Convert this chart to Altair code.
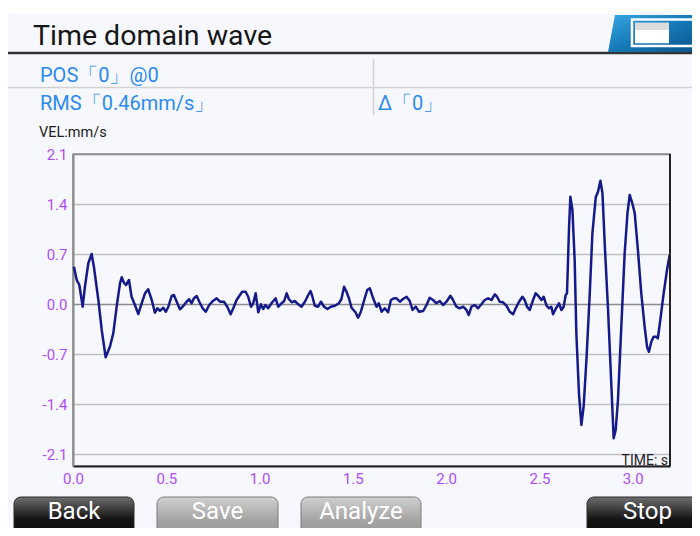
import altair as alt
import pandas as pd

# ---------------- data ----------------
time_s = [0.005, 0.020, 0.034, 0.052, 0.064, 0.082, 0.100, 0.112, 0.136, 0.154,
          0.175, 0.198, 0.216, 0.234, 0.252, 0.261, 0.273, 0.284, 0.300, 0.314,
          0.332, 0.350, 0.368, 0.386, 0.403, 0.422, 0.439, 0.452, 0.466, 0.484,
          0.498, 0.511, 0.529, 0.541, 0.556, 0.573, 0.591, 0.609, 0.623, 0.636,
          0.648, 0.663, 0.677, 0.695, 0.712, 0.730, 0.752, 0.770, 0.788, 0.809,
          0.827, 0.845, 0.859, 0.877, 0.895, 0.907, 0.925, 0.939, 0.954, 0.966,
          0.979, 0.993, 1.007, 1.019, 1.032, 1.046, 1.064, 1.086, 1.100, 1.118,
          1.132, 1.145, 1.157, 1.172, 1.189, 1.207, 1.225, 1.243, 1.261, 1.273,
          1.282, 1.296, 1.314, 1.329, 1.346, 1.364, 1.382, 1.404, 1.425, 1.439,
          1.453, 1.466, 1.479, 1.493, 1.514, 1.528, 1.543, 1.561, 1.577, 1.591,
          1.609, 1.627, 1.639, 1.654, 1.671, 1.689, 1.704, 1.721, 1.734, 1.752,
          1.769, 1.788, 1.805, 1.820, 1.837, 1.855, 1.877, 1.895, 1.912, 1.930,
          1.948, 1.966, 1.984, 2.002, 2.023, 2.037, 2.055, 2.073, 2.091, 2.109,
          2.121, 2.136, 2.154, 2.171, 2.189, 2.207, 2.225, 2.243, 2.261, 2.273,
          2.287, 2.305, 2.323, 2.341, 2.359, 2.373, 2.391, 2.409, 2.421, 2.434,
          2.448, 2.466, 2.480, 2.493, 2.511, 2.523, 2.538, 2.552, 2.564, 2.573,
          2.587, 2.605, 2.618, 2.630, 2.641, 2.648, 2.659, 2.666, 2.677, 2.689,
          2.698, 2.712, 2.725, 2.737, 2.752, 2.770, 2.784, 2.802, 2.814, 2.827,
          2.838, 2.850, 2.868, 2.886, 2.898, 2.909, 2.921, 2.939, 2.957, 2.972,
          2.984, 2.998, 3.011, 3.028, 3.046, 3.064, 3.077, 3.087, 3.100, 3.112,
          3.127, 3.135, 3.148, 3.166, 3.184, 3.198]

vel_mm_s = [0.522, 0.336, 0.266, -0.038, 0.242, 0.570, 0.700, 0.522, 0.056, -0.364,
            -0.746, -0.598, -0.410, -0.038, 0.290, 0.374, 0.298, 0.266, 0.336, 0.102,
            -0.014, -0.140, 0.010, 0.150, 0.206, 0.056, -0.122, -0.060, -0.094, -0.052,
            -0.108, -0.038, 0.112, 0.126, 0.032, -0.074, -0.028, 0.032, 0.066, 0.010,
            0.080, 0.112, 0.032, -0.060, -0.108, -0.014, 0.046, 0.080, 0.032, 0.032,
            -0.038, -0.144, -0.060, 0.056, 0.126, 0.172, 0.172, 0.102, -0.038, 0.010,
            0.150, -0.116, -0.004, -0.070, -0.014, -0.060, 0.010, 0.080, -0.038, 0.010,
            0.042, 0.150, 0.070, 0.024, 0.042, -0.004, -0.038, 0.032, 0.126, 0.182,
            0.116, -0.024, -0.038, 0.032, -0.038, -0.070, -0.038, -0.024, 0.010, 0.070,
            0.242, 0.172, 0.080, -0.052, -0.116, -0.192, -0.108, 0.056, 0.196, 0.220,
            0.080, -0.038, 0.010, -0.108, -0.060, -0.116, 0.056, 0.080, 0.080, 0.032,
            0.070, 0.102, 0.042, -0.084, -0.038, -0.108, -0.098, -0.014, 0.088, 0.056,
            0.010, 0.042, -0.014, 0.032, 0.116, 0.056, -0.038, -0.060, -0.038, -0.084,
            -0.154, -0.038, -0.014, -0.060, -0.004, 0.056, 0.080, 0.056, 0.136, 0.102,
            0.032, 0.024, -0.024, -0.108, -0.144, -0.060, 0.032, 0.102, 0.056, -0.038,
            -0.084, 0.056, 0.150, 0.116, 0.056, 0.102, -0.024, -0.060, -0.038, -0.144,
            -0.070, 0.010, -0.084, -0.038, 0.126, 0.150, 1.082, 1.502, 1.316, 0.616,
            -0.410, -1.250, -1.694, -1.438, -0.784, 0.150, 0.990, 1.494, 1.572, 1.726,
            1.550, 0.850, -0.084, -1.158, -1.880, -1.764, -1.344, -0.318, 0.710, 1.270,
            1.526, 1.410, 1.270, 0.756, 0.150, -0.318, -0.598, -0.668, -0.528, -0.458,
            -0.458, -0.480, -0.224, 0.150, 0.476, 0.686]

x_ticks = [0.0, 0.5, 1.0, 1.5, 2.0, 2.5, 3.0]
y_ticks = [-2.1, -1.4, -0.7, 0.0, 0.7, 1.4, 2.1]

title_text = "Time domain wave"
pos_text = "POS「0」@0"
rms_text = "RMS「0.46mm/s」"
delta_text = "Δ「0」"
y_unit = "VEL:mm/s"
x_unit = "TIME: s"
button_labels = ["Back", "Save", "Analyze", "Stop"]

# ---------------- styles ----------------
FONT = "Roboto"
PURPLE = "#b04bff"
BLUE = "#2a8af0"
LINE = "#141a8a"
BG = "#f7f8fd"

df = pd.DataFrame({"t": time_s, "v": vel_mm_s})

wave = alt.Chart(df).mark_line(color=LINE, strokeWidth=2.5, strokeJoin="round").encode(
    x=alt.X("t:Q",
            scale=alt.Scale(domain=[0, 3.2], nice=False, zero=False),
            axis=alt.Axis(values=x_ticks, format=".1f", title=None, grid=False, ticks=False,
                          domainColor="#222222", domainWidth=2, labelColor=PURPLE,
                          labelFontSize=15, labelFont=FONT, labelPadding=5, labelFlush=False)),
    y=alt.Y("v:Q",
            scale=alt.Scale(domain=[-2.268, 2.1], nice=False, zero=False),
            axis=alt.Axis(values=y_ticks, title=None, ticks=False,
                          domainColor="#8a8a8a", domainWidth=2,
                          gridColor=alt.condition("datum.value === 0 || datum.value > 2.0",
                                                  alt.value("#8c8c8c"), alt.value("#c0c0c0")),
                          gridWidth=1.6, labelColor=PURPLE, labelFontSize=15, labelFont=FONT,
                          labelPadding=6, labelFlush=False,
                          labelExpr="replace(format(datum.value, '.1f'), '\u2212', '-')")),
)

one = alt.Data(values=[{"k": 0}])


def rect(x, x2, y, y2, **kw):
    return alt.Chart(one).mark_rect(**kw).encode(
        x=alt.value(x), x2=alt.value(x2), y=alt.value(y), y2=alt.value(y2))


def rule(x, x2, y, y2, **kw):
    return alt.Chart(one).mark_rule(**kw).encode(
        x=alt.value(x), x2=alt.value(x2), y=alt.value(y), y2=alt.value(y2))


def text(s, x, y, **kw):
    return alt.Chart(one).mark_text(text=s, font=FONT, **kw).encode(
        x=alt.value(x), y=alt.value(y))


def vgrad(stops, x2=0, y2=1):
    return alt.LinearGradient(
        gradient="linear",
        stops=[alt.GradientStop(color=c, offset=o) for o, c in stops],
        x1=0, y1=0, x2=x2, y2=y2)


black_btn = vgrad([(0, "#6e6e6e"), (0.42, "#151515"), (1, "#000000")])
gray_btn = vgrad([(0, "#d0d0d0"), (0.45, "#a4a4a4"), (1, "#8a8a8a")])
blue_icon = vgrad([(0, "#35a6e2"), (0.5, "#1679b8"), (1, "#0b5388")], x2=1, y2=1)

decor = [
    # right frame of the plot
    rule(597, 597, 0, 312, color="#222222", strokeWidth=2),
    # white top strip
    rect(-65, 627, -146, -140, color="white"),
    # header
    text(title_text, -40, -109, fontSize=28.5, color="#161616", align="left", baseline="alphabetic"),
    rule(-65, 627, -101, -101, color="#333333", strokeWidth=2.5),
    alt.Chart(one).mark_point(
        shape="M -0.848 -0.402 L 1 -0.402 L 1 0.402 L -1 0.402 Z",
        size=8464, filled=True, fill=blue_icon, strokeWidth=0, opacity=1
    ).encode(x=alt.value(581), y=alt.value(-120.6)),
    rect(559, 622, -134.5, -108, filled=False, stroke="white", strokeWidth=2.5),
    rect(562, 596, -131.3, -110.7, color="white"),
    rect(562, 596, -131.3, -124, color="#dcdcdc"),
    # info rows
    rule(-65, 627, -66.5, -66.5, color="#d2d2d2", strokeWidth=1.5),
    rule(300.5, 300.5, -95, -39, color="#d2d2d2", strokeWidth=1.5),
    text(pos_text, -33, -72.5, fontSize=20, color=BLUE, align="left", baseline="alphabetic"),
    text(rms_text, -33, -44, fontSize=20, color=BLUE, align="left", baseline="alphabetic"),
    text(delta_text, 305, -44, fontSize=20, color=BLUE, align="left", baseline="alphabetic"),
    # unit labels
    text(y_unit, -34, -17, fontSize=14.5, color="#222222", align="left", baseline="alphabetic"),
    text(x_unit, 595, 311, fontSize=14, color="#222222", align="right", baseline="alphabetic"),
    # buttons
    rect(-59, 61, 343, 395, fill=black_btn, stroke="#2a2a2a", strokeWidth=1, cornerRadius=7),
    rect(84, 205, 343, 395, fill=gray_btn, stroke="#7a7a7a", strokeWidth=1, cornerRadius=7),
    rect(228, 348, 343, 395, fill=gray_btn, stroke="#7a7a7a", strokeWidth=1, cornerRadius=7),
    rect(514, 640, 343, 395, fill=black_btn, stroke="#2a2a2a", strokeWidth=1, cornerRadius=7),
    text(button_labels[0], 1, 365, fontSize=24, color="white", align="center", baseline="alphabetic"),
    text(button_labels[1], 144.5, 365, fontSize=24, color="white", align="center", baseline="alphabetic"),
    text(button_labels[2], 288, 365, fontSize=24, color="white", align="center", baseline="alphabetic"),
    text(button_labels[3], 574.5, 365, fontSize=24, color="white", align="center", baseline="alphabetic"),
]

chart = alt.layer(wave, *decor).properties(
    width=597, height=312,
    autosize=alt.AutoSizeParams(type="none"),
    padding={"left": 65, "top": 146, "right": 22, "bottom": 62},
).configure(background=BG).configure_view(stroke="#8c8c8c", strokeWidth=1.5)

chart.save("out.html", embed_options={"renderer": "svg", "actions": False})
